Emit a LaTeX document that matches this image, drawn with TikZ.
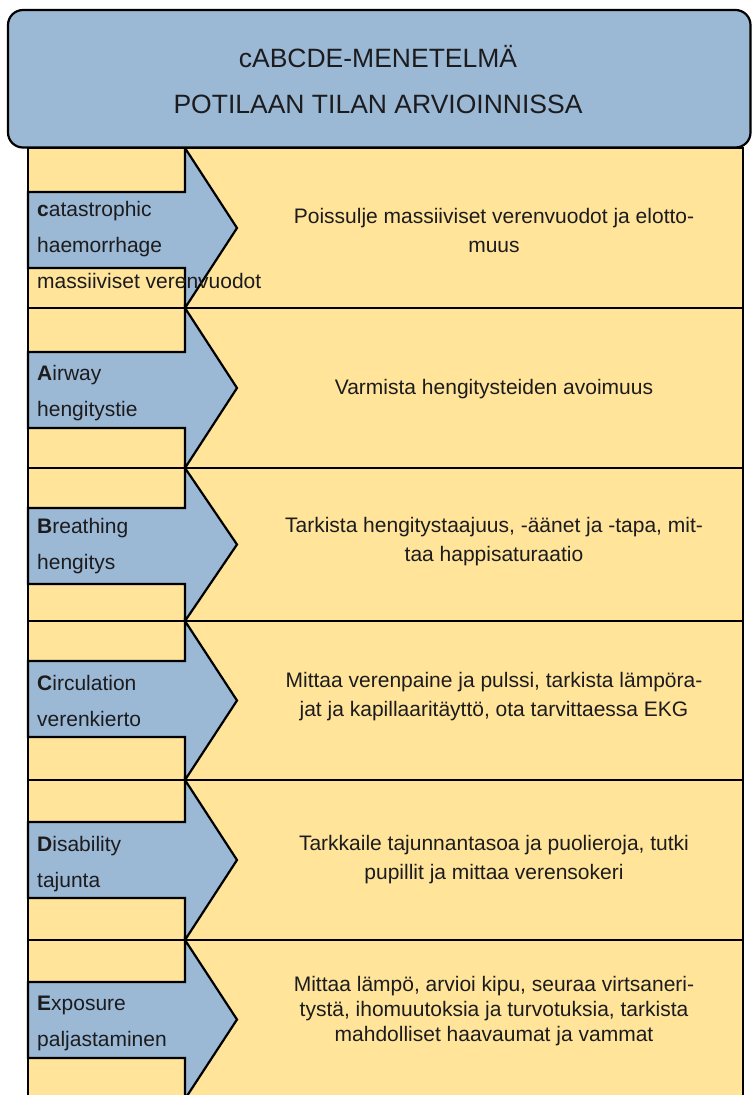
\documentclass[tikz,border=0pt]{standalone}
\usepackage{fontspec}
\setmainfont{Liberation Sans}
\definecolor{hdrblue}{RGB}{155,184,213}
\definecolor{rowyel}{RGB}{255,228,153}
\definecolor{txt}{RGB}{28,28,30}
\tikzset{
  frame/.style={draw=black, line width=2.2pt, line join=miter},
  rowbox/.style={frame, fill=rowyel},
  arrowbox/.style={frame, fill=hdrblue},
  headbox/.style={frame, fill=hdrblue, rounded corners=15pt},
  lefttext/.style={anchor=west, align=left, inner sep=0pt, text=txt, font=\fontsize{21}{36}\selectfont},
  righttext/.style={align=center, inner sep=0pt, text=txt, font=\fontsize{21}{29}\selectfont},
  righttextsm/.style={righttext, font=\fontsize{21}{25}\selectfont},
  titletext/.style={align=center, inner sep=0pt, text=txt, font=\fontsize{26.5}{46}\selectfont},
}
\begin{document}
\begin{tikzpicture}[x=1pt,y=-1pt]
\clip (0,0) rectangle (752,1095);
\fill[white] (0,0) rectangle (752,1095);
% rows: top / small-rect bottom / body bottom / row bottom
\foreach \T/\S/\U/\B in {148/192/268/308, 308/352/428/468, 468/508/584/621, 621/661/737/780, 780/822/898/940, 940/982/1058/1099}{
  \draw[rowbox] (28,\T) rectangle (743,\B);
  \draw[arrowbox] (28,\S) -- (185,\S) -- (185,\T) -- (237,{(\T+\B)/2}) -- (185,\B) -- (185,\U) -- (28,\U) -- cycle;
}
% header
\draw[headbox] (8,10) rectangle (750.5,147.5);
\node[titletext] (title) at (378,80) {cABCDE-MENETELMÄ\\POTILAAN TILAN ARVIOINNISSA};
% left labels
\node[lefttext] (lab1) at (37,245) {\textbf{c}atastrophic\\haemorrhage\\massiiviset verenvuodot};
\node[lefttext] (lab2) at (37,393) {\textbf{A}irway\\hengitystie};
\node[lefttext] (lab3) at (37,546) {\textbf{B}reathing\\hengitys};
\node[lefttext] (lab4) at (37,701) {\textbf{C}irculation\\verenkierto};
\node[lefttext] (lab5) at (37,864) {\textbf{D}isability\\tajunta};
\node[lefttext] (lab6) at (37,1023) {\textbf{E}xposure\\paljastaminen};
% right descriptions
\node[righttext] (desc1) at (494,230) {Poissulje massiiviset verenvuodot ja elotto-\\muus};
\node[righttext] (desc2) at (494,389) {Varmista hengitysteiden avoimuus};
\node[righttext] (desc3) at (494,542) {Tarkista hengitystaajuus, -äänet ja -tapa, mit-\\taa happisaturaatio};
\node[righttext] (desc4) at (494,697) {Mittaa verenpaine ja pulssi, tarkista lämpöra-\\jat ja kapillaaritäyttö, ota tarvittaessa EKG};
\node[righttext] (desc5) at (494,860) {Tarkkaile tajunnantasoa ja puolieroja, tutki\\pupillit ja mittaa verensokeri};
\node[righttextsm] (desc6) at (494,1011) {Mittaa lämpö, arvioi kipu, seuraa virtsaneri-\\tystä, ihomuutoksia ja turvotuksia, tarkista\\mahdolliset haavaumat ja vammat};
\end{tikzpicture}
\end{document}
